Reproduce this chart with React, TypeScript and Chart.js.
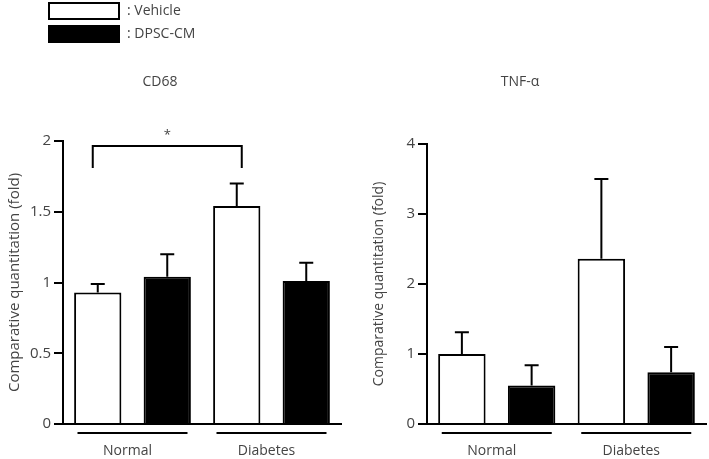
import React, { useEffect, useRef } from 'react';
import { Chart, registerables } from 'chart.js';

Chart.register(...registerables);

// ---------- data ----------
const groups = ['Normal', 'Diabetes'];
const seriesNames = ['Vehicle', 'DPSC-CM'];

const cd68Vehicle = [0.93, 1.54];
const cd68VehicleErr = [0.06, 0.16];
const cd68Dpsc = [1.04, 1.01];
const cd68DpscErr = [0.16, 0.13];

const tnfVehicle = [1.0, 2.36];
const tnfVehicleErr = [0.31, 1.14];
const tnfDpsc = [0.55, 0.74];
const tnfDpscErr = [0.29, 0.36];

const cd68Max = 2;
const cd68Step = 0.5;
const tnfMax = 4;
const tnfStep = 1;

const panelTitles = ['CD68', 'TNF-α'];
const yTitle = 'Comparative quantitation (fold)';
const sigLabel = '*';

// ---------- style ----------
const FONT = "'Open Sans', 'Noto Sans', sans-serif";
const TEXT = '#444';
const INK = '#000';

const errorBarsPlugin = {
  id: 'errorBars',
  afterDatasetsDraw(chart: any) {
    const ctx = chart.ctx;
    const y = chart.scales.y;
    ctx.save();
    ctx.strokeStyle = INK;
    ctx.lineWidth = 2;
    ctx.lineCap = 'butt';
    chart.data.datasets.forEach((ds: any, i: number) => {
      const meta = chart.getDatasetMeta(i);
      meta.data.forEach((el: any, j: number) => {
        const top = y.getPixelForValue(ds.data[j] + ds.errors[j]);
        ctx.beginPath();
        ctx.moveTo(el.x, el.y);
        ctx.lineTo(el.x, top);
        ctx.moveTo(el.x - 7, top);
        ctx.lineTo(el.x + 7, top);
        ctx.stroke();
      });
    });
    ctx.restore();
  },
};

const groupLinesPlugin = {
  id: 'groupLines',
  afterDraw(chart: any, _args: any, opts: any) {
    const ctx = chart.ctx;
    const x = chart.scales.x;
    const yy = chart.chartArea.bottom + opts.offset;
    ctx.save();
    ctx.strokeStyle = INK;
    ctx.lineWidth = 2;
    chart.data.labels.forEach((_l: any, j: number) => {
      const cx = x.getPixelForValue(j);
      ctx.beginPath();
      ctx.moveTo(cx - opts.half, yy);
      ctx.lineTo(cx + opts.half, yy);
      ctx.stroke();
    });
    ctx.restore();
  },
};

const bracketPlugin = {
  id: 'bracket',
  afterDraw(chart: any, _args: any, opts: any) {
    if (!opts || !opts.show) return;
    const ctx = chart.ctx;
    const y = chart.scales.y;
    const meta = chart.getDatasetMeta(opts.dataset);
    const x1 = meta.data[opts.from].x - opts.outset;
    const x2 = meta.data[opts.to].x + opts.outset;
    const yt = y.getPixelForValue(opts.top);
    const yl = y.getPixelForValue(opts.leg);
    ctx.save();
    ctx.strokeStyle = INK;
    ctx.lineWidth = 2;
    ctx.beginPath();
    ctx.moveTo(x1, yl);
    ctx.lineTo(x1, yt);
    ctx.lineTo(x2, yt);
    ctx.lineTo(x2, yl);
    ctx.stroke();
    ctx.fillStyle = TEXT;
    ctx.font = `13px ${FONT}`;
    ctx.textAlign = 'center';
    ctx.textBaseline = 'middle';
    ctx.fillText(opts.label, (x1 + x2) / 2, yt - 11);
    ctx.restore();
  },
};

const panelTitlePlugin = {
  id: 'panelTitle',
  afterDraw(chart: any, _args: any, opts: any) {
    const ctx = chart.ctx;
    ctx.save();
    ctx.fillStyle = TEXT;
    ctx.font = `14px ${FONT}`;
    ctx.textAlign = 'center';
    ctx.textBaseline = 'middle';
    ctx.fillText(opts.text, opts.x, opts.y);
    ctx.restore();
  },
};

const boxLegendPlugin = {
  id: 'boxLegend',
  afterDraw(chart: any, _args: any, opts: any) {
    if (!opts || !opts.show) return;
    const ctx = chart.ctx;
    ctx.save();
    chart.data.datasets.forEach((ds: any, i: number) => {
      const top = opts.y + i * opts.gap;
      ctx.fillStyle = ds.backgroundColor;
      ctx.fillRect(opts.x, top, opts.w, opts.h);
      ctx.strokeStyle = INK;
      ctx.lineWidth = 2;
      ctx.strokeRect(opts.x, top, opts.w, opts.h);
      ctx.fillStyle = TEXT;
      ctx.font = `14px ${FONT}`;
      ctx.textAlign = 'left';
      ctx.textBaseline = 'middle';
      ctx.fillText(': ' + ds.label, opts.x + opts.w + 8, top + opts.h / 2);
    });
    ctx.restore();
  },
};

function makeConfig(p: any) {
  return {
    type: 'bar',
    data: {
      labels: groups,
      datasets: [
        {
          label: seriesNames[0],
          data: p.vehicle,
          errors: p.vehicleErr,
          backgroundColor: '#ffffff',
          borderColor: INK,
          borderWidth: 2,
          categoryPercentage: 1.0,
          barPercentage: 0.68,
        },
        {
          label: seriesNames[1],
          data: p.dpsc,
          errors: p.dpscErr,
          backgroundColor: '#000000',
          borderColor: INK,
          borderWidth: 2,
          categoryPercentage: 1.0,
          barPercentage: 0.68,
        },
      ],
    },
    options: {
      responsive: false,
      animation: false,
      layout: { padding: { top: p.padTop, right: p.padRight, left: 0, bottom: 0 } },
      plugins: {
        legend: { display: false },
        tooltip: { enabled: false },
        title: { display: false },
        groupLines: { offset: 9, half: 55 },
        bracket: p.bracket,
        panelTitle: { text: p.title, x: p.titleX, y: 82 },
        boxLegend: p.legend,
      },
      scales: {
        x: {
          z: 1,
          grid: { display: false, drawTicks: false },
          border: { display: true, color: INK, width: 2 },
          ticks: {
            color: TEXT,
            font: { family: FONT, size: 14 },
            padding: 19,
            labelOffset: -5,
          },
          afterFit(s: any) {
            s.height = 35;
          },
        },
        y: {
          z: 1,
          min: 0,
          max: p.max,
          ticks: {
            stepSize: p.step,
            color: TEXT,
            padding: 3,
            font: { family: FONT, size: 15 },
            callback: (v: any) => String(v),
          },
          grid: {
            display: true,
            drawOnChartArea: false,
            drawTicks: true,
            tickLength: 9,
            color: INK,
            lineWidth: 2,
          },
          border: { display: true, color: INK, width: 2 },
          title: {
            display: true,
            text: yTitle,
            color: TEXT,
            font: { family: FONT, size: p.yTitleSize },
            padding: { top: p.yTitlePad, bottom: 0 },
          },
          afterFit(s: any) {
            s.width = p.yWidth;
          },
        },
      },
    },
    plugins: [errorBarsPlugin, groupLinesPlugin, bracketPlugin, panelTitlePlugin, boxLegendPlugin],
  };
}

function Panel(props: { left: number; width: number; cfg: any }) {
  const ref = useRef<HTMLCanvasElement | null>(null);
  useEffect(() => {
    if (!ref.current) return;
    const chart = new Chart(ref.current, props.cfg as any);
    return () => chart.destroy();
  }, []);
  return (
    <canvas
      ref={ref}
      width={props.width}
      height={459}
      style={{ position: 'absolute', left: props.left, top: 0, width: props.width, height: 459 }}
    />
  );
}

export default function App() {
  const cfg1 = makeConfig({
    vehicle: cd68Vehicle,
    vehicleErr: cd68VehicleErr,
    dpsc: cd68Dpsc,
    dpscErr: cd68DpscErr,
    max: cd68Max,
    step: cd68Step,
    title: panelTitles[0],
    titleX: 160,
    padTop: 141,
    padRight: 13,
    yWidth: 63,
    yTitleSize: 15,
    yTitlePad: 6,
    bracket: { show: true, dataset: 0, from: 0, to: 1, top: 1.965, leg: 1.81, outset: 5, label: sigLabel },
    legend: { show: true, x: 49, y: 3, w: 70, h: 16, gap: 23 },
  });
  const cfg2 = makeConfig({
    vehicle: tnfVehicle,
    vehicleErr: tnfVehicleErr,
    dpsc: tnfDpsc,
    dpscErr: tnfDpscErr,
    max: tnfMax,
    step: tnfStep,
    title: panelTitles[1],
    titleX: 166,
    padTop: 144,
    padRight: 3,
    yWidth: 73,
    yTitleSize: 14,
    yTitlePad: 17,
    bracket: { show: false },
    legend: { show: false },
  });
  return (
    <div style={{ position: 'absolute', left: 0, top: 0, width: 709, height: 459, background: '#fff' }}>
      <Panel left={0} width={354} cfg={cfg1} />
      <Panel left={354} width={355} cfg={cfg2} />
    </div>
  );
}
